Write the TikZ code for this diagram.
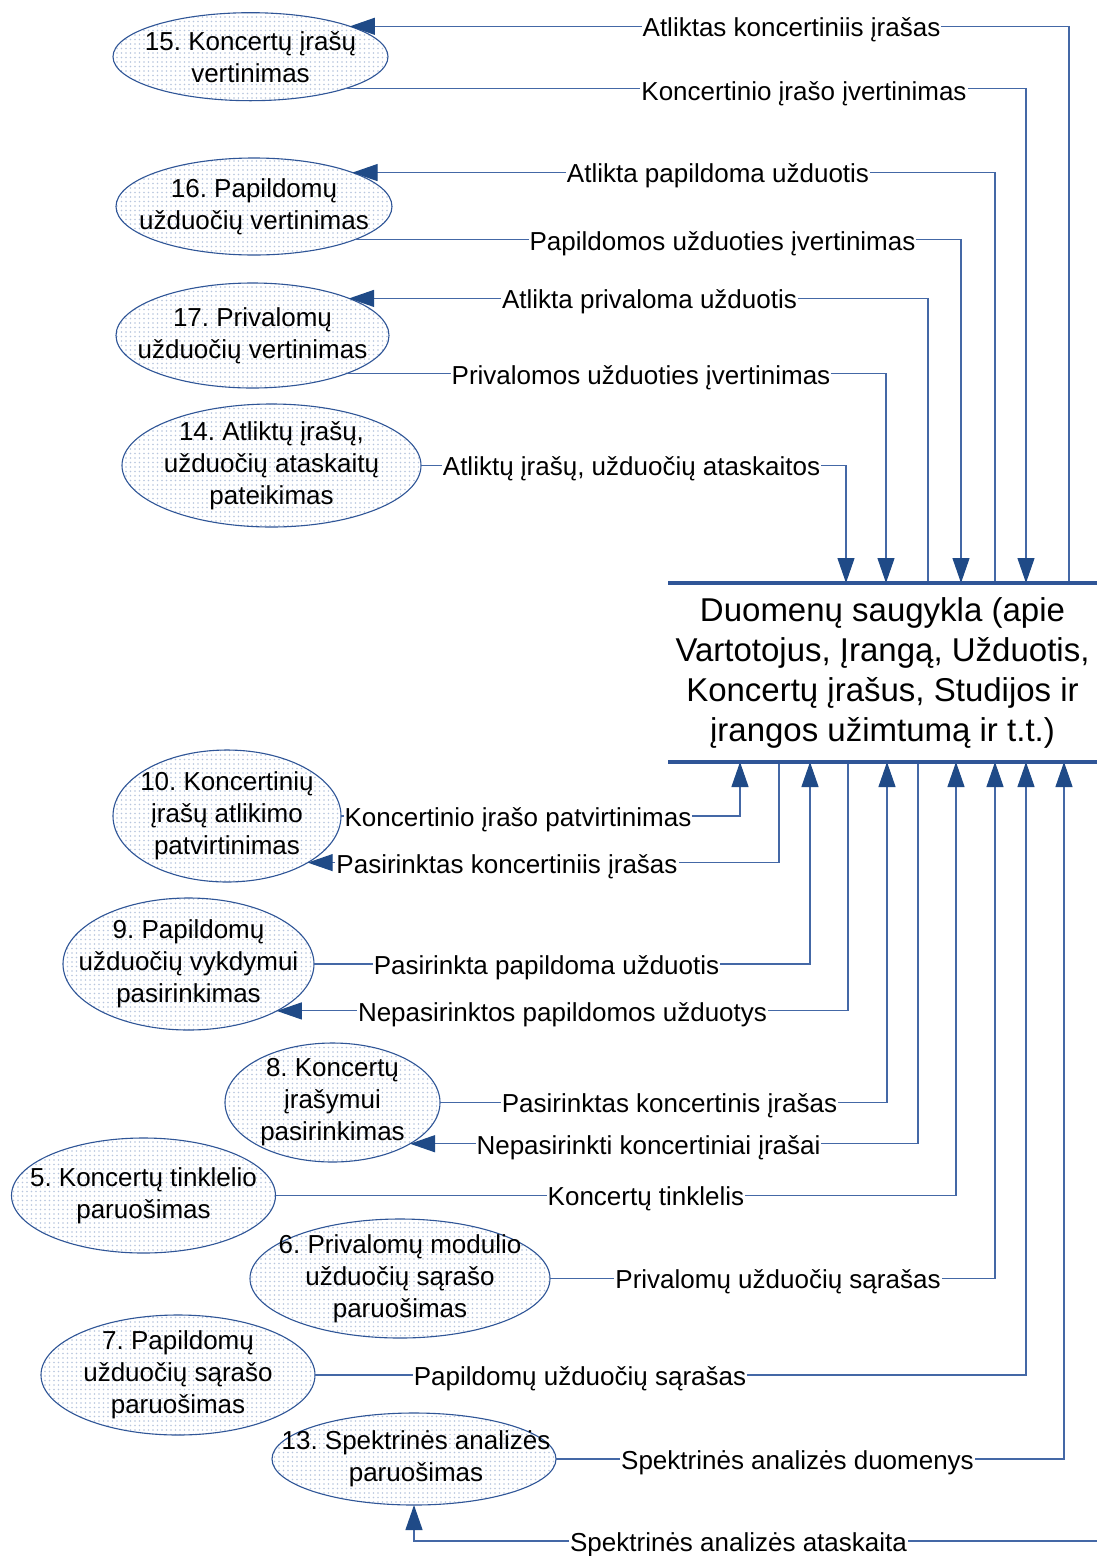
\documentclass[tikz,border=0pt]{standalone}
\usepackage{fontspec}
\setmainfont{Liberation Sans}
\usetikzlibrary{shapes.geometric, arrows.meta, patterns.meta}
\frenchspacing

\definecolor{edgeblue}{HTML}{2F5597}
\definecolor{wireblue}{HTML}{4468A6}
\definecolor{tipblue}{HTML}{1F4A87}
\definecolor{dotblue}{HTML}{B8C6DE}

\tikzset{
  proc/.style={ellipse, draw=edgeblue, line width=1.1pt,
    pattern={Dots[distance=4.5pt, radius=0.8pt]}, pattern color=dotblue,
    inner sep=0pt, outer sep=0pt},
  ptext/.style={align=center, font=\fontsize{26}{32}\selectfont, inner sep=0pt},
  lbl/.style={fill=white, font=\fontsize{26}{32}\selectfont, inner xsep=1pt,
    inner ysep=0pt, text height=24pt, text depth=4pt},
  wire/.style={draw=wireblue, line width=1.1pt},
  arr/.style={wire, -{Triangle[length=25pt, width=17pt, color=tipblue]}},
  dbline/.style={draw=edgeblue, line width=3.3pt},
  dbbox/.style={inner sep=0pt, outer sep=0pt, minimum width=429pt,
    minimum height=179pt, align=center, font=\fontsize{33}{40}\selectfont},
}

\begin{document}
\begin{tikzpicture}[x=1pt, y=-1pt]
  \fill[white] (0,0) rectangle (1097,1556);
  \useasboundingbox (0,0) rectangle (1097,1556);

  % processes
  \node[proc, minimum width=275pt, minimum height=88pt]  (e15) at (250.5,56.7) {};
  \node[proc, minimum width=276pt, minimum height=97pt]  (e16) at (254,206.5) {};
  \node[proc, minimum width=273pt, minimum height=105pt] (e17) at (252.5,335.5) {};
  \node[proc, minimum width=299pt, minimum height=123pt] (e14) at (271.5,465.5) {};
  \node[proc, minimum width=228pt, minimum height=132pt] (e10) at (227,816) {};
  \node[proc, minimum width=251pt, minimum height=132pt] (e9)  at (188.5,964) {};
  \node[proc, minimum width=215pt, minimum height=119pt] (e8)  at (332.5,1102.5) {};
  \node[proc, minimum width=264pt, minimum height=115pt] (e5)  at (143.5,1195.5) {};
  \node[proc, minimum width=300pt, minimum height=119pt] (e6)  at (400,1278.5) {};
  \node[proc, minimum width=274pt, minimum height=120pt] (e7)  at (178,1375) {};
  \node[proc, minimum width=284pt, minimum height=92pt]  (e13) at (414,1459) {};

  % data store
  \node[dbbox] (db) at (882.5,672.5)
    {Duomenų saugykla (apie\\Vartotojus, Įrangą, Užduotis,\\Koncertų įrašus, Studijos ir\\įrangos užimtumą ir t.t.)};

  % flows above the store
  \draw[arr] (e15.-19.95) -| ([xshift=358pt]db.north west);
  \draw[arr] ([xshift=401pt]db.north west) |- (e15.17.62);
  \draw[arr] (e16.-18.56) -| ([xshift=293pt]db.north west);
  \draw[arr] ([xshift=327pt]db.north west) |- (e16.19.57);
  \draw[arr] (e17.-22.53) -| ([xshift=218pt]db.north west);
  \draw[arr] ([xshift=260pt]db.north west) |- (e17.21.44);
  \draw[arr] (e14.east) -| ([xshift=178pt]db.north west);

  % flows below the store
  \draw[arr] (e10.east) -| ([xshift=72pt]db.south west);
  \draw[arr] ([xshift=111pt]db.south west) |- (e10.-30.43);
  \draw[arr] (e9.east) -| ([xshift=142pt]db.south west);
  \draw[arr] ([xshift=180pt]db.south west) |- (e9.-28.08);
  \draw[arr] (e8.east) -| ([xshift=219pt]db.south west);
  \draw[arr] ([xshift=250pt]db.south west) |- (e8.-28.32);
  \draw[arr] (e5.east) -| ([xshift=288pt]db.south west);
  \draw[arr] (e6.east) -| ([xshift=327pt]db.south west);
  \draw[arr] (e7.east) -| ([xshift=358pt]db.south west);
  \draw[arr] (e13.east) -| ([xshift=396pt]db.south west);
  \coordinate (rim) at (1097,1541);
  \draw[arr] (rim) -| (e13.south);

  % store edges
  \draw[dbline] (db.north west) -- (db.north east);
  \draw[dbline] (db.south west) -- (db.south east);

  % flow labels
  \node[lbl] (l1)  at (791.5,26)    {Atliktas koncertiniis įrašas};
  \node[lbl] (l2)  at (804,90)      {Koncertinio įrašo įvertinimas};
  \node[lbl] (l3)  at (718,172)     {Atlikta papildoma užduotis};
  \node[lbl] (l4)  at (722.5,240)   {Papildomos užduoties įvertinimas};
  \node[lbl] (l5)  at (649.5,298)   {Atlikta privaloma užduotis};
  \node[lbl] (l6)  at (641,374)     {Privalomos užduoties įvertinimas};
  \node[lbl] (l7)  at (631.5,465.5) {Atliktų įrašų, užduočių ataskaitos};
  \node[lbl] (l8)  at (518,816)     {Koncertinio įrašo patvirtinimas};
  \node[lbl] (l9)  at (507,863)     {Pasirinktas koncertiniis įrašas};
  \node[lbl] (l10) at (546.5,964)   {Pasirinkta papildoma užduotis};
  \node[lbl] (l11) at (562.5,1011)  {Nepasirinktos papildomos užduotys};
  \node[lbl] (l12) at (669.5,1102.5){Pasirinktas koncertinis įrašas};
  \node[lbl] (l13) at (648.5,1144)  {Nepasirinkti koncertiniai įrašai};
  \node[lbl] (l14) at (646,1195.5)  {Koncertų tinklelis};
  \node[lbl] (l15) at (778,1278.5)  {Privalomų užduočių sąrašas};
  \node[lbl] (l16) at (580,1375)    {Papildomų užduočių sąrašas};
  \node[lbl] (l17) at (797.5,1459)  {Spektrinės analizės duomenys};
  \node[lbl] (l18) at (738.5,1541)  {Spektrinės analizės ataskaita};

  % process names
  \node[ptext] (t15) at (e15) {15. Koncertų įrašų\\vertinimas};
  \node[ptext] (t16) at (e16) {16. Papildomų\\užduočių vertinimas};
  \node[ptext] (t17) at (e17) {17. Privalomų\\užduočių vertinimas};
  \node[ptext] (t14) at (e14) {14. Atliktų įrašų,\\užduočių ataskaitų\\pateikimas};
  \node[ptext] (t10) at (e10) {10. Koncertinių\\įrašų atlikimo\\patvirtinimas};
  \node[ptext] (t9)  at (e9)  {9. Papildomų\\užduočių vykdymui\\pasirinkimas};
  \node[ptext] (t8)  at (e8)  {8. Koncertų\\įrašymui\\pasirinkimas};
  \node[ptext] (t5)  at (e5)  {5. Koncertų tinklelio\\paruošimas};
  \node[ptext] (t6)  at (e6)  {6. Privalomų modulio\\užduočių sąrašo\\paruošimas};
  \node[ptext] (t7)  at (e7)  {7. Papildomų\\užduočių sąrašo\\paruošimas};
  \node[ptext] (t13) at ([xshift=2pt]e13.center) {13. Spektrinės analizės\\paruošimas};
\end{tikzpicture}
\end{document}
